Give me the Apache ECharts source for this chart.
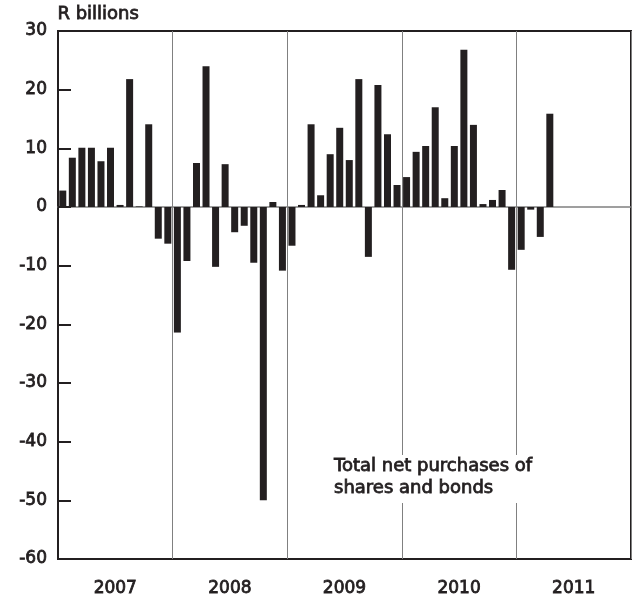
<!DOCTYPE html>
<html>
<head>
<meta charset="utf-8">
<script src="https://cdn.jsdelivr.net/npm/echarts@6/dist/echarts.min.js"></script>
<style>
  html, body { margin: 0; padding: 0; background: #fff; }
  #chart { width: 636px; height: 602px; }
</style>
</head>
<body>
<div id="chart"></div>
<script>
var years = ['2007', '2008', '2009', '2010', '2011'];
var monthNames = ['Jan','Feb','Mar','Apr','May','Jun','Jul','Aug','Sep','Oct','Nov','Dec'];
var values2007 = [2.8, 8.4, 10.1, 10.1, 7.8, 10.1, 0.35, 21.8, 0.1, 14.1, -5.4, -6.25];
var values2008 = [-21.4, -9.2, 7.5, 24.0, -10.2, 7.3, -4.3, -3.2, -9.5, -50, 0.85, -10.85];
var values2009 = [-6.6, 0.35, 14.1, 2.0, 9.0, 13.5, 8.0, 21.8, -8.5, 20.8, 12.4, 3.75];
var values2010 = [5.1, 9.4, 10.4, 17.0, 1.5, 10.4, 26.8, 14.0, 0.5, 1.2, 2.9, -10.7];
var values2011 = [-7.3, -0.45, -5.1, 15.9];
var yTicks = [-60, -50, -40, -30, -20, -10, 0, 10, 20, 30];

var months = [];
years.forEach(function (y) { monthNames.forEach(function (m) { months.push(m + ' ' + y); }); });
var series = [].concat(values2007, values2008, values2009, values2010, values2011);
while (series.length < months.length) series.push(null);

var dark = '#231f20';
var gray = '#808080';
var font = 'DejaVu Sans, sans-serif';
var textStroke = 0.8;

var chart = echarts.init(document.getElementById('chart'));
chart.setOption({
  animation: false,
  grid: {
    left: 58, right: 5, top: 31, bottom: 43,
    show: true, borderColor: dark, borderWidth: 2, backgroundColor: 'transparent'
  },
  xAxis: [
    {
      type: 'category',
      data: months,
      boundaryGap: true,
      axisLine: { show: true, onZero: true, lineStyle: { color: gray, width: 1.5 } },
      axisTick: { show: false },
      axisLabel: { show: false },
      splitLine: {
        show: true,
        interval: function (idx) { return idx > 0 && idx < months.length && idx % 12 === 0; },
        lineStyle: { color: gray, width: 1 }
      }
    },
    {
      type: 'category',
      data: years,
      position: 'bottom',
      boundaryGap: true,
      axisLine: { show: false, onZero: false },
      axisTick: { show: false },
      splitLine: { show: false },
      axisLabel: {
        show: true, margin: 21, fontSize: 17, color: dark, fontFamily: font,
        textBorderColor: dark, textBorderWidth: textStroke
      }
    }
  ],
  yAxis: {
    type: 'value',
    min: yTicks[0],
    max: yTicks[yTicks.length - 1],
    interval: 10,
    axisLine: { show: true, lineStyle: { color: dark, width: 2 } },
    axisTick: { show: true, inside: true, length: 13, lineStyle: { color: dark, width: 2 } },
    splitLine: { show: false },
    axisLabel: {
      margin: 11, fontSize: 17, color: dark, fontFamily: font,
      textBorderColor: dark, textBorderWidth: textStroke
    }
  },
  graphic: [
    {
      type: 'text', left: 57, top: 5, z: 100,
      style: {
        text: 'R billions', fontSize: 18, fill: dark, fontFamily: font,
        stroke: dark, lineWidth: textStroke
      }
    },
    {
      type: 'text', left: 332, top: 455, z: 100,
      style: {
        text: 'Total net purchases of\nshares and bonds',
        fontSize: 18, lineHeight: 22, fill: dark, fontFamily: font,
        stroke: dark, lineWidth: textStroke,
        backgroundColor: '#fff', padding: [0, 4, 4, 2]
      }
    }
  ],
  series: [{
    type: 'bar',
    xAxisIndex: 0,
    data: series,
    barWidth: 7,
    itemStyle: { color: dark },
    z: 1
  }]
});
</script>
</body>
</html>
